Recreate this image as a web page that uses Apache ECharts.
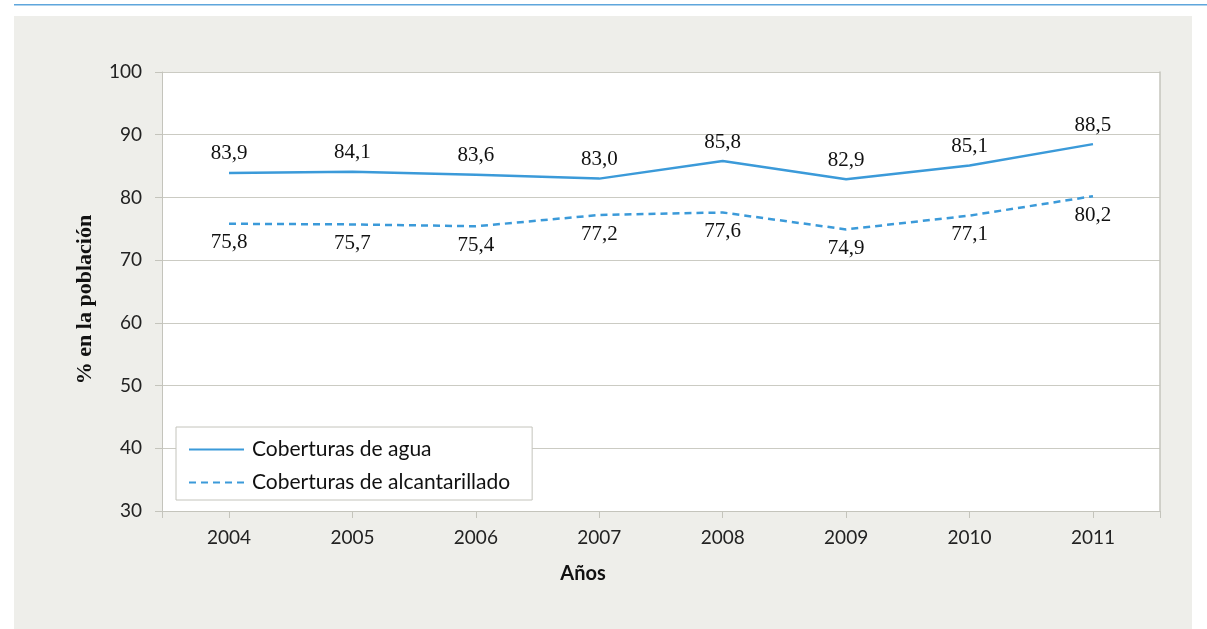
<!DOCTYPE html>
<html>
<head>
<meta charset="utf-8">
<script src="https://cdn.jsdelivr.net/npm/echarts@6/dist/echarts.min.js"></script>
<style>
html,body{margin:0;padding:0;background:#fff;}
#c{width:1207px;height:629px;}
</style>
</head>
<body>
<div id="c"></div>
<script>
const years = [2004, 2005, 2006, 2007, 2008, 2009, 2010, 2011];
const agua = [83.9, 84.1, 83.6, 83.0, 85.8, 82.9, 85.1, 88.5];
const alcantarillado = [75.8, 75.7, 75.4, 77.2, 77.6, 74.9, 77.1, 80.2];
const yTicks = [30, 40, 50, 60, 70, 80, 90, 100];
const seriesNames = ['Coberturas de agua', 'Coberturas de alcantarillado'];
const yAxisName = '% en la población';
const xAxisName = 'Años';

const xMin = 2003.457, xMax = 2011.543;
const lineColor = '#3b9ad9';
const sansFont = 'Lato';
const serifFont = 'Liberation Serif';
const fmt = p => p.value[1].toFixed(1).replace('.', ',');

const chart = echarts.init(document.getElementById('c'), null, {renderer: 'canvas'});
chart.setOption({
  backgroundColor: '#ffffff',
  animation: false,
  graphic: [
    {type: 'rect', z: -10, shape: {x: 14, y: 16, width: 1178, height: 613}, style: {fill: '#eeeeea'}},
    {type: 'rect', z: -10, shape: {x: 14, y: 4, width: 1193, height: 1.5}, style: {fill: '#5fa6dc'}}
  ],
  title: {
    text: xAxisName, left: 578, top: 559, textAlign: 'center',
    textStyle: {fontFamily: sansFont, fontWeight: 'bold', fontSize: 20, color: '#111'}
  },
  grid: {left: 162, right: 47, top: 72, bottom: 118, show: true, backgroundColor: '#ffffff', borderWidth: 0},
  legend: {
    orient: 'vertical', left: 176, top: 427,
    backgroundColor: '#ffffff', borderColor: '#c4c4bc', borderWidth: 1, borderRadius: 0,
    padding: [12, 22, 7, 12], itemWidth: 55, itemHeight: 18, itemGap: 12,
    textStyle: {fontFamily: sansFont, fontSize: 21, color: '#111', padding: [0, 0, 0, 3]},
    data: seriesNames
  },
  xAxis: {
    type: 'value', min: xMin, max: xMax,
    axisLine: {show: true, onZero: false, lineStyle: {color: '#c4c4bc', width: 1}},
    axisTick: {show: true, length: 7, customValues: [xMin].concat(years, [xMax]), lineStyle: {color: '#c4c4bc'}},
    axisLabel: {customValues: years, margin: 17, fontFamily: sansFont, fontSize: 19, color: '#222', formatter: v => String(Math.round(v))},
    splitLine: {show: false}
  },
  yAxis: [{
    type: 'value', min: 30, max: 100, interval: 10,
    name: yAxisName, nameLocation: 'middle', nameGap: 66, nameRotate: 90,
    nameTextStyle: {fontFamily: serifFont, fontWeight: 'bold', fontSize: 22, color: '#111', padding: [0, 16, 0, 0]},
    axisLine: {show: true, lineStyle: {color: '#c4c4bc', width: 1}},
    axisTick: {show: true, length: 7, lineStyle: {color: '#c4c4bc'}},
    axisLabel: {margin: 20, fontFamily: sansFont, fontSize: 19, color: '#222'},
    splitLine: {show: true, lineStyle: {color: '#cbcbc3', width: 1}}
  }, {
    type: 'value', min: 30, max: 100, position: 'right',
    axisLine: {show: true, lineStyle: {color: '#c4c4bc', width: 1.5}},
    axisTick: {show: false}, axisLabel: {show: false}, splitLine: {show: false}
  }],
  series: [{
    name: seriesNames[0], type: 'line', symbol: 'circle', symbolSize: 1, showSymbol: true,
    data: years.map((y, i) => [y, agua[i]]),
    lineStyle: {color: lineColor, width: 2.5},
    itemStyle: {color: 'rgba(0,0,0,0)', borderWidth: 0},
    label: {show: true, position: 'top', distance: 8, formatter: fmt, fontFamily: serifFont, fontSize: 21, color: '#111'}
  }, {
    name: seriesNames[1], type: 'line', symbol: 'circle', symbolSize: 1, showSymbol: true,
    data: years.map((y, i) => [y, alcantarillado[i]]),
    lineStyle: {color: lineColor, width: 2.5, type: [7, 5]},
    itemStyle: {color: 'rgba(0,0,0,0)', borderWidth: 0},
    label: {show: true, position: 'bottom', distance: 8, formatter: fmt, fontFamily: serifFont, fontSize: 21, color: '#111'}
  }]
});
</script>
</body>
</html>
